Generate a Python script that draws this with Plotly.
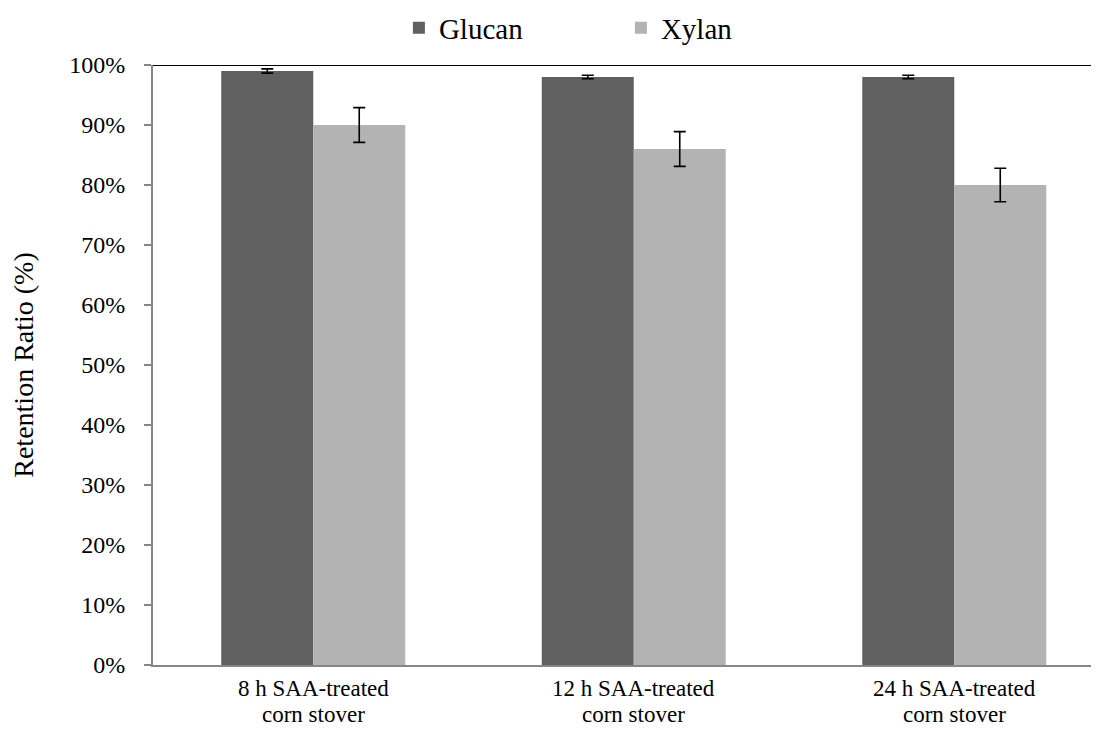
import plotly.graph_objects as go

categories = ["8 h SAA-treated<br>corn stover", "12 h SAA-treated<br>corn stover", "24 h SAA-treated<br>corn stover"]
glucan = [99, 98, 98]
glucan_err = [0.35, 0.3, 0.3]
xylan = [90, 86, 80]
xylan_err = [2.9, 2.9, 2.8]
yticks = list(range(0, 101, 10))
ytick_labels = [f"{v}%" for v in yticks]

FONT = "Liberation Serif, Times New Roman, serif"
AXIS_GRAY = "#868686"

fig = go.Figure()
fig.add_trace(go.Bar(
    name="Glucan", x=categories, y=glucan, marker_color="#606060",
    marker_line_width=0,
    error_y=dict(type="data", array=glucan_err, color="black", thickness=1.6, width=6),
))
fig.add_trace(go.Bar(
    name="Xylan", x=categories, y=xylan, marker_color="#b3b3b3",
    marker_line_width=0,
    error_y=dict(type="data", array=xylan_err, color="black", thickness=1.6, width=6),
))

fig.add_shape(type="line", xref="paper", yref="y", x0=0, x1=1, y0=100, y1=100,
              line=dict(color="black", width=2))

# category labels: two tightly spaced lines under each group
for cat in categories:
    lines = cat.split("<br>")
    for i, txt in enumerate(lines):
        fig.add_annotation(x=cat, xref="x", y=0, yref="paper", text=txt,
                           showarrow=False, xanchor="center", yanchor="middle",
                           yshift=-23 - 26 * i, font=dict(family=FONT, size=23, color="black"))

# page body has an 8px default margin; size the figure so it fits the 1099x730 window
fig.update_layout(
    width=1091, height=722,
    margin=dict(l=145, r=0, t=57, b=65, autoexpand=False),
    paper_bgcolor="white", plot_bgcolor="white",
    barmode="group", bargap=0.426, bargroupgap=0,
    font=dict(family=FONT, size=21, color="black"),
    showlegend=True,
    legend=dict(orientation="h", x=0.4946, xanchor="center", y=1.062, yanchor="middle",
                font=dict(family=FONT, size=29), entrywidth=177, entrywidthmode="pixels",
                itemwidth=30),
    xaxis=dict(range=[-0.5, 2.4516], showline=True, linecolor=AXIS_GRAY, linewidth=2,
               ticks="", showgrid=False, showticklabels=False, automargin=False),
    yaxis=dict(range=[0, 100], tickmode="array", tickvals=yticks, ticktext=ytick_labels,
               showline=True, linecolor=AXIS_GRAY, linewidth=2, ticks="outside",
               ticklen=7, tickwidth=2, tickcolor=AXIS_GRAY, showgrid=False, zeroline=False,
               tickfont=dict(size=24), ticklabelstandoff=14, automargin=False,
               title=dict(text="Retention Ratio (%)", font=dict(size=28), standoff=30)),
)

fig.write_html("out.html")
